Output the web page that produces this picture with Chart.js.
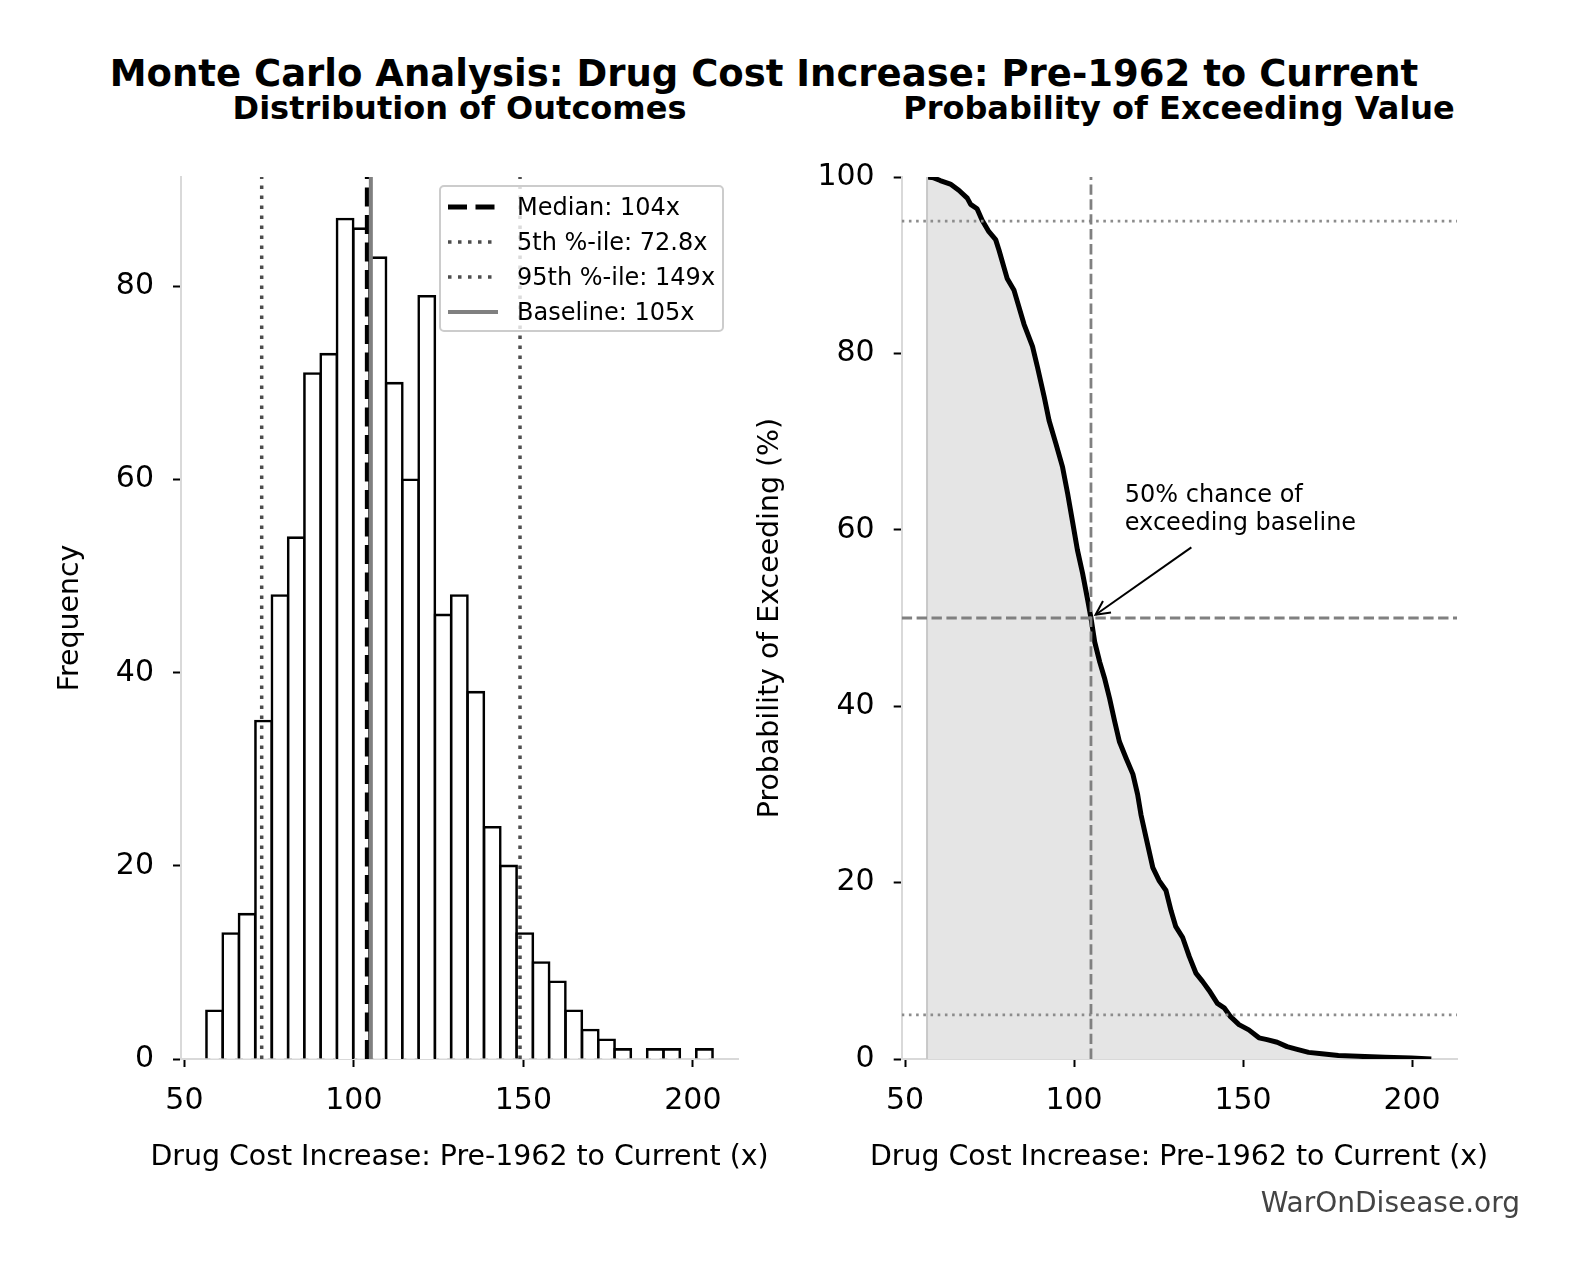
<!DOCTYPE html>
<html>
<head>
<meta charset="utf-8">
<title>Monte Carlo Analysis: Drug Cost Increase</title>
<script src="https://cdn.jsdelivr.net/npm/chart.js@4.4.1/dist/chart.umd.min.js"></script>
<style>
  html, body { margin: 0; padding: 0; background: #fff; }
  body { position: relative; width: 1581px; height: 1280px; overflow: hidden; font-family: "DejaVu Sans", sans-serif; color: #000; }
  .lbl { position: absolute; white-space: nowrap; line-height: 1; transform: translate(-50%, -50%); }
  .bold { font-weight: bold; }
  .wrap { position: absolute; }
  #legend { position: absolute; left: 439px; top: 185px; width: 281px; height: 143px;
            border: 2px solid #cccccc; border-radius: 5px; background: rgba(255,255,255,0.8); }
  #legend .row { position: absolute; left: 0; width: 100%; height: 30px; }
  #legend svg { position: absolute; left: 7px; top: 10px; }
  #legend span { position: absolute; left: 76px; top: 15px; font-size: 24px; line-height: 1;
                 transform: translateY(-50%); white-space: nowrap; }
</style>
</head>
<body>

<div class="lbl bold" style="left:764px; top:72.5px; font-size:37px;">Monte Carlo Analysis: Drug Cost Increase: Pre-1962 to Current</div>
<div class="lbl bold" style="left:459.5px; top:107.7px; font-size:32px;">Distribution of Outcomes</div>
<div class="lbl bold" style="left:1179px; top:107.7px; font-size:32px;">Probability of Exceeding Value</div>

<div class="wrap" style="left:0px; top:140px; width:760px; height:1060px;"><canvas id="histChart"></canvas></div>
<div class="wrap" style="left:730px; top:140px; width:760px; height:1060px;"><canvas id="exceedChart"></canvas></div>

<div class="lbl" style="left:459.5px; top:1155.5px; font-size:28.4px;">Drug Cost Increase: Pre-1962 to Current (x)</div>
<div class="lbl" style="left:1179px; top:1155.5px; font-size:28.4px;">Drug Cost Increase: Pre-1962 to Current (x)</div>

<div id="legend"></div>

<div class="lbl" style="left:1520px; top:1203px; font-size:28px; color:#444; transform:translate(-100%,-50%);">WarOnDisease.org</div>

<script>
// histogram (1000 runs): bin edges and counts
const binEdges = [56.5, 61.3, 66.1, 70.9, 75.8, 80.6, 85.4, 90.2, 95.0, 99.8, 104.7,
                  109.5, 114.3, 119.1, 123.9, 128.7, 133.5, 138.4, 143.2, 148.0, 152.8,
                  157.6, 162.4, 167.3, 172.1, 176.9, 181.7, 186.5, 191.3, 196.2, 201.0, 205.8];
const binCounts = [5, 13, 15, 35, 48, 54, 71, 73, 87, 86, 83,
                   70, 60, 79, 46, 48, 38, 24, 20, 13, 10,
                   8, 5, 3, 2, 1, 0, 1, 1, 0, 1];

// summary values
const medianVal = 104;
const p5Val = 72.8;
const p95Val = 149;
const baselineVal = 105;

// exceedance curve (right panel)
const curveX = [56.5, 58.5, 60.4, 63.4, 65.9, 68.4, 69.4, 71.3, 72.8, 74.8, 76.8, 77.8, 79.3, 80.2,
                82.2, 83.2, 85.2, 87.7, 89.2, 91.2, 92.6, 94.6, 96.6, 98.1, 99.6, 101.0, 102.5, 104.0,
                105.0, 106.1, 107.6, 109.0, 110.5, 112.0, 113.4, 115.4, 117.4, 118.8, 119.8, 121.3,
                123.3, 125.2, 127.2, 128.7, 130.1, 132.1, 134.1, 136.1, 138.0, 139.9, 142.4, 144.4,
                146.3, 148.8, 151.7, 154.7, 157.1, 160.1, 163.0, 166.0, 169.4, 173.3, 178.2, 184.1,
                192.0, 199.8, 205.7];
const curveP = [100, 99.9, 99.6, 99.2, 98.5, 97.6, 96.9, 96.4, 95.1, 93.8, 92.9, 91.7, 89.7, 88.5,
                87.2, 85.9, 83.3, 80.8, 78.4, 75.0, 72.4, 69.8, 67.1, 64.1, 60.8, 57.7, 55.1, 52.1,
                50.0, 47.3, 45.0, 43.2, 40.9, 38.3, 36.0, 34.1, 32.3, 30.0, 27.7, 25.1,
                21.7, 20.2, 19.1, 16.8, 15.0, 13.8, 11.6, 9.7, 8.8, 7.8, 6.3, 5.8,
                4.8, 3.9, 3.3, 2.4, 2.2, 1.9, 1.4, 1.1, 0.75, 0.6, 0.4, 0.3,
                0.2, 0.1, 0.0];

// reference levels on the exceedance panel
const probLevels = [95, 50, 5];

// axes
const xMin = 49.0, xMax = 213.3;
const histYMax = 91.35;
const probYMax = 100;
const xTicks = [50, 100, 150, 200];
const histYTicks = [0, 20, 40, 60, 80];
const probYTicks = [0, 20, 40, 60, 80, 100];

// annotation
const annotLines = ['50% chance of', 'exceeding baseline'];
const annotTextAt = [115, 60];
const annotArrowFrom = [134.7, 58.0];
const annotPoint = [baselineVal, 50];

const family = 'DejaVu Sans';
const tickFont = { family: family, size: 30 };
const labelFont = { family: family, size: 28.4 };

// x title is set as page text below the canvas (it is wider than the axis)
function xAxis(fixedHeight) {
  return {
    type: 'linear', min: xMin, max: xMax, offset: false,
    afterBuildTicks: s => { s.ticks = xTicks.map(v => ({ value: v })); },
    afterFit: s => { s.height = fixedHeight; },
    grid: { display: true, drawOnChartArea: false, drawTicks: true, tickLength: 8, tickWidth: 2, tickColor: '#000', offset: false },
    border: { display: true, color: '#d9d9d9', width: 2 },
    ticks: { font: tickFont, color: '#000', padding: 16, maxRotation: 0, autoSkip: false }
  };
}

function yAxis(max, ticks, fixedWidth, title, titlePad) {
  return {
    type: 'linear', min: 0, max: max,
    afterBuildTicks: s => { s.ticks = ticks.map(v => ({ value: v })); },
    afterFit: s => { s.width = fixedWidth; },
    grid: { display: true, drawOnChartArea: false, drawTicks: true, tickLength: 8, tickWidth: 2, tickColor: '#000' },
    border: { display: true, color: '#d9d9d9', width: 2 },
    ticks: { font: tickFont, color: '#000', padding: 19 },
    title: { display: true, text: title, font: labelFont, color: '#000', padding: { top: titlePad, bottom: 0 } }
  };
}

// ---------- left: histogram ----------
const histData = [];
binCounts.forEach((c, i) => {
  if (c > 0) histData.push({ x: (binEdges[i] + binEdges[i + 1]) / 2, y: c });
});

const refLines = [
  { label: 'Median: ' + medianVal + 'x', value: medianVal, color: '#000000', width: 5.2, dash: [19, 8.5] },
  { label: '5th %-ile: ' + p5Val + 'x', value: p5Val, color: '#4d4d4d', width: 3.5, dash: [3.5, 6.5] },
  { label: '95th %-ile: ' + p95Val + 'x', value: p95Val, color: '#4d4d4d', width: 3.5, dash: [3.5, 6.5] },
  { label: 'Baseline: ' + baselineVal + 'x', value: baselineVal, color: '#808080', width: 4, dash: [] }
];

const histDatasets = [{
  type: 'bar',
  label: 'Frequency',
  data: histData,
  backgroundColor: '#ffffff',
  borderColor: '#000000',
  borderWidth: 2.6,
  inflateAmount: 1.3,
  barPercentage: 1.0,
  categoryPercentage: 1.0,
  order: 10
}];
refLines.forEach((l, i) => {
  histDatasets.push({
    type: 'line',
    label: l.label,
    data: [{ x: l.value, y: 0 }, { x: l.value, y: histYMax }],
    borderColor: l.color,
    borderWidth: l.width,
    borderDash: l.dash,
    borderCapStyle: 'butt',
    pointRadius: 0,
    fill: false,
    order: 4 - i
  });
});

new Chart(document.getElementById('histChart'), {
  type: 'bar',
  data: { datasets: histDatasets },
  options: {
    responsive: true,
    maintainAspectRatio: false,
    animation: false,
    layout: { padding: { left: 20, top: 31.4, right: 22, bottom: 0 } },
    scales: {
      x: xAxis(141),
      y: yAxis(histYMax, histYTicks, 161, 'Frequency', 33.7)
    },
    plugins: { legend: { display: false }, tooltip: { enabled: false } }
  }
});

// HTML legend built from the reference line styles
const legendEl = document.getElementById('legend');
refLines.forEach((l, i) => {
  const row = document.createElement('div');
  row.className = 'row';
  row.style.top = (5 + i * 35) + 'px';
  row.innerHTML =
    '<svg width="50" height="10"><line x1="0" y1="5" x2="50" y2="5" stroke="' + l.color +
    '" stroke-width="' + l.width + '" stroke-dasharray="' + (l.dash.length ? l.dash.join(',') : 'none') +
    '"/></svg><span>' + l.label + '</span>';
  legendEl.appendChild(row);
});

// ---------- right: probability of exceeding ----------
const annotPlugin = {
  id: 'annot',
  afterDatasetsDraw(chart) {
    const { ctx, scales: { x, y } } = chart;
    ctx.save();
    ctx.font = '24px "DejaVu Sans"';
    ctx.fillStyle = '#000';
    ctx.textAlign = 'left';
    ctx.textBaseline = 'alphabetic';
    const tx = x.getPixelForValue(annotTextAt[0]);
    const ty = y.getPixelForValue(annotTextAt[1]);
    const gap = 27.7;
    annotLines.forEach((t, i) => ctx.fillText(t, tx, ty - (annotLines.length - 1 - i) * gap));

    const sx = x.getPixelForValue(annotArrowFrom[0]), sy = y.getPixelForValue(annotArrowFrom[1]);
    const px = x.getPixelForValue(annotPoint[0]), py = y.getPixelForValue(annotPoint[1]);
    const dx = sx - px, dy = sy - py, len = Math.hypot(dx, dy);
    const ux = dx / len, uy = dy / len;
    const tipX = px + ux * 5.6, tipY = py + uy * 5.6;
    ctx.strokeStyle = '#000';
    ctx.lineWidth = 2;
    ctx.lineCap = 'butt';
    ctx.beginPath();
    ctx.moveTo(sx, sy);
    ctx.lineTo(tipX, tipY);
    ctx.stroke();
    const hl = 14, hw = 7;
    ctx.beginPath();
    ctx.moveTo(tipX + ux * hl - uy * hw, tipY + uy * hl + ux * hw);
    ctx.lineTo(tipX, tipY);
    ctx.lineTo(tipX + ux * hl + uy * hw, tipY + uy * hl - ux * hw);
    ctx.stroke();
    ctx.restore();
  }
};

const probDatasets = [
  {
    label: 'Exceedance',
    data: curveX.map((v, i) => ({ x: v, y: curveP[i] })),
    borderColor: '#000000',
    borderWidth: 5,
    borderJoinStyle: 'round',
    backgroundColor: '#e5e5e5',
    fill: 'origin',
    pointRadius: 0,
    tension: 0,
    order: 10
  },
  {
    label: 'fill edge',
    data: [{ x: curveX[0], y: 0 }, { x: curveX[0], y: curveP[0] }],
    borderColor: '#c8c8c8',
    borderWidth: 2,
    pointRadius: 0,
    fill: false,
    order: 9
  }
];
probLevels.forEach(p => {
  const dashed = p === 50;
  probDatasets.push({
    label: p + '%',
    data: [{ x: xMin, y: p }, { x: xMax, y: p }],
    borderColor: dashed ? '#808080' : '#8c8c8c',
    borderWidth: dashed ? 2.8 : 2.6,
    borderDash: dashed ? [10.4, 4.5] : [2.6, 4.6],
    borderCapStyle: 'butt',
    pointRadius: 0,
    fill: false,
    order: 3
  });
});
probDatasets.push({
  label: 'Baseline',
  data: [{ x: baselineVal, y: 0 }, { x: baselineVal, y: probYMax }],
  borderColor: '#808080',
  borderWidth: 2.8,
  borderDash: [10.4, 4.5],
  borderCapStyle: 'butt',
  pointRadius: 0,
  fill: false,
  order: 2
});

new Chart(document.getElementById('exceedChart'), {
  type: 'line',
  data: { datasets: probDatasets },
  options: {
    responsive: true,
    maintainAspectRatio: false,
    animation: false,
    layout: { padding: { left: 10, top: 31.7, right: 33, bottom: 0 } },
    scales: {
      x: xAxis(141),
      y: yAxis(probYMax, probYTicks, 161.7, 'Probability of Exceeding (%)', 13.2)
    },
    plugins: { legend: { display: false }, tooltip: { enabled: false } }
  },
  plugins: [annotPlugin]
});
</script>
</body>
</html>
